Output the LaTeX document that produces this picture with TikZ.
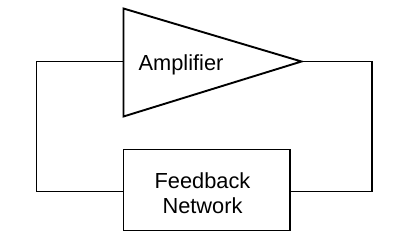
\documentclass[tikz,border=0pt]{standalone}
\usepackage{fontspec}
\setmainfont{Liberation Sans}
\begin{document}
\begin{tikzpicture}[x=1bp,y=-1bp,
  wire/.style={line width=1.9bp, line join=miter},
  lbl/.style={font=\fontsize{21.8bp}{25bp}\selectfont, align=center, inner sep=0pt}]
\useasboundingbox (0,0) rectangle (395,250);
% amplifier triangle
\coordinate (tl) at (123.5,8.5);
\coordinate (bl) at (123.5,116.5);
\coordinate (tip) at (301.5,61.5);
\draw[wire] (tl) -- (tip) -- (bl) -- cycle;
\node[lbl, anchor=base] (amp) at (181,70) {Amplifier};
% feedback box
\node[draw, wire, minimum width=166.5bp, minimum height=81bp, inner sep=0pt] (fb) at (206.75,190) {};
\node[lbl] (fbt) at (202.5,193) {Feedback\\Network};
% wires
\coordinate (in) at (123.5,61.5);
\draw[wire] (in) -- (36.5,61.5) |- (fb.west |- 0,191.5);
\draw[wire] (tip) -- (372.3,61.5) |- (fb.east |- 0,191.5);
\end{tikzpicture}
\end{document}
